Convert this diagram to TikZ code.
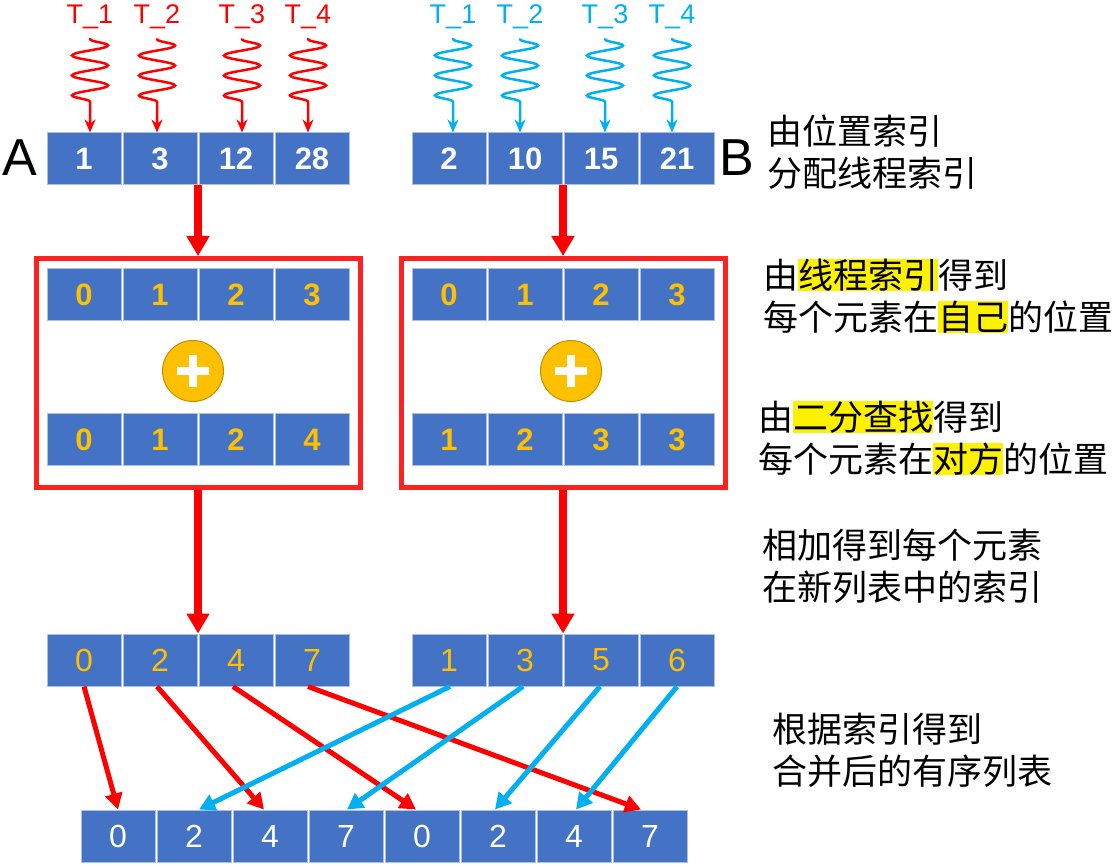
\documentclass[tikz,border=0pt]{standalone}
\usepackage{fontspec}
\setmainfont{Liberation Sans}
\newfontfamily\cjk{Noto Sans CJK SC}
\usetikzlibrary{arrows.meta,calc,decorations.pathmorphing}

\definecolor{cellblue}{HTML}{4472C4}
\definecolor{idxgold}{HTML}{FFC000}
\definecolor{ringgold}{HTML}{BF9000}
\definecolor{thblue}{HTML}{00B0F0}
\definecolor{boxred}{HTML}{FF2020}

\newcommand{\hilite}[1]{{\setlength{\fboxsep}{0pt}\colorbox{yellow}{#1}}}

\tikzset{
  cell/.style={rectangle,fill=cellblue,draw=white!55!cellblue,line width=1pt,
    minimum width=74pt,minimum height=52pt,inner sep=0pt,text=white,
    font=\fontsize{31}{31}\selectfont\bfseries},
  idx/.style={cell,text=idxgold},
  idxthin/.style={cell,text=idxgold,font=\fontsize{32}{32}\selectfont},
  outcell/.style={cell,font=\fontsize{32}{32}\selectfont},
  thread/.style={inner sep=1pt,font=\fontsize{27}{27}\selectfont},
  squig/.style={line width=2.5pt,-{Stealth[length=13pt,width=11pt]},decorate,
    decoration={snake,amplitude=18pt,segment length=20pt,pre length=1pt,post length=30pt}},
  redbox/.style={draw=boxred,line width=5pt,minimum width=324pt,minimum height=229pt,inner sep=0pt},
  pluscirc/.style={circle,fill=idxgold,draw=ringgold,line width=1pt,minimum size=61pt,inner sep=0pt,
    path picture={\draw[white,line width=7.5pt]
      ([xshift=-16pt]path picture bounding box.center) -- ([xshift=16pt]path picture bounding box.center)
      ([yshift=-16pt]path picture bounding box.center) -- ([yshift=16pt]path picture bounding box.center);}},
  bigarrow/.style={draw=red,line width=8pt,-{Triangle[length=20pt,width=22pt]}},
  redarrow/.style={draw=red,line width=5pt,-{Triangle[length=16pt,width=17pt]}},
  bluearrow/.style={draw=thblue,line width=5pt,-{Triangle[length=16pt,width=17pt]}},
  note/.style={anchor=west,inner sep=0pt,align=left,font=\cjk\fontsize{35}{42}\selectfont}
}

\begin{document}
\begin{tikzpicture}[x=1pt,y=-1pt]
\useasboundingbox (0,0) rectangle (1117,866);

% input lists
\foreach \v [count=\i] in {1,3,12,28} \node[cell] (a\i) at (8+76*\i,159) {\v};
\foreach \v [count=\i] in {2,10,15,21} \node[cell] (b\i) at (373+76*\i,159) {\v};
\node[font=\fontsize{52}{52}\selectfont] (labA) at (20,158) {A};
\node[font=\fontsize{52}{52}\selectfont] (labB) at (737,158) {B};

% threads
\foreach \x/\n [count=\i] in {90/1,157/2,242/3,308/4} {
  \node[thread,text=red] (ta\i) at (\x,17) {T\_\n};
  \draw[squig,red] ([yshift=-8pt]ta\i.south) -- (ta\i.south |- a\i.north);
}
\foreach \x/\n [count=\i] in {453/1,520/2,605/3,672/4} {
  \node[thread,text=thblue] (tb\i) at (\x,17) {T\_\n};
  \draw[squig,thblue] ([yshift=-8pt]tb\i.south) -- (tb\i.south |- b\i.north);
}

% position boxes
\node[redbox] (boxL) at (198,373) {};
\node[redbox] (boxR) at (563,373) {};
\foreach \v [count=\i] in {0,1,2,3} \node[idx] (p\i) at (8+76*\i,295) {\v};
\foreach \v [count=\i] in {0,1,2,4} \node[idx] (q\i) at (8+76*\i,440) {\v};
\foreach \v [count=\i] in {0,1,2,3} \node[idx] (r\i) at (373+76*\i,295) {\v};
\foreach \v [count=\i] in {1,2,3,3} \node[idx] (s\i) at (373+76*\i,440) {\v};
\node[pluscirc] (plusL) at (193,371) {};
\node[pluscirc] (plusR) at (571,371) {};

% new indices
\foreach \v [count=\i] in {0,2,4,7} \node[idxthin] (m\i) at (8+76*\i,660) {\v};
\foreach \v [count=\i] in {1,3,5,6} \node[idxthin] (n\i) at (373+76*\i,660) {\v};

% merged list
\foreach \v [count=\i] in {0,2,4,7,0,2,4,7} \node[outcell] (c\i) at (42+76*\i,836) {\v};

% main flow
\draw[bigarrow] (a2.south east -| boxL.north) -- (boxL.north);
\draw[bigarrow] (b2.south east -| boxR.north) -- (boxR.north);
\draw[bigarrow] (boxL.south) -- (boxL.south |- m2.north);
\draw[bigarrow] (boxR.south) -- (boxR.south |- n2.north);

% scatter
\foreach \s/\t/\sx/\ex in {1/1/0/0,2/3/-3/-6,3/5/-3/-6,4/8/-4/-9}
  \draw[redarrow] ([xshift=\sx pt]m\s.south) -- ([xshift=\ex pt]c\t.north);
\foreach \s/\t/\sx/\ex in {1/2/1/5,2/4/-2/1,3/6/-1/-3,4/7/0/2}
  \draw[bluearrow] ([xshift=\sx pt]n\s.south) -- ([xshift=\ex pt]c\t.north);

% notes
\node[note] (note1) at (767,152) {由位置索引\\分配线程索引};
\node[note] (note2) at (763,296) {由\hilite{线程索引}得到\\每个元素在\hilite{自己}的位置};
\node[note] (note3) at (758,438) {由\hilite{二分查找}得到\\每个元素在\hilite{对方}的位置};
\node[note] (note4) at (762,566) {相加得到每个元素\\在新列表中的索引};
\node[note] (note5) at (772,750) {根据索引得到\\合并后的有序列表};
\end{tikzpicture}
\end{document}
